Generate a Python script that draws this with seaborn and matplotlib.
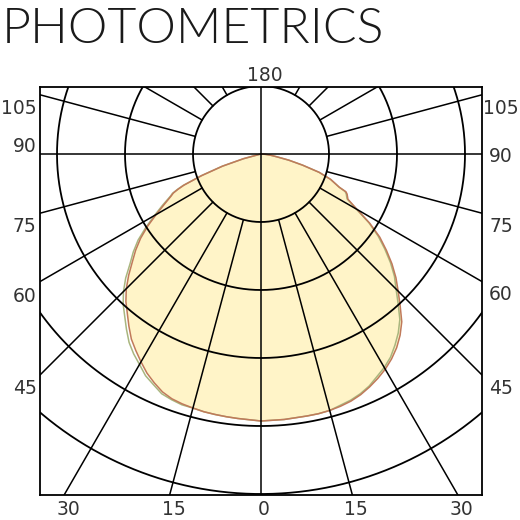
import numpy as np
import pandas as pd
import seaborn as sns
import matplotlib.pyplot as plt

# polar grid, centre of the diagram is (0, 0), units ~ pixels
ring_step = 68
ring_count = 5
spoke_angles = [15, 30, 45, 60, 75, 105, 120, 135, 150, 165]

# light distribution curve: radius vs angle from nadir
gamma = [0, 2.5, 5, 7.5, 10, 12.5, 15, 17.5, 20, 22.5, 25, 27.5, 30, 32.5, 35, 37.5, 40,
         42.5, 45, 47.5, 50, 52.5, 55, 57.5, 60, 62.5, 65, 66, 67, 68, 70, 72.5, 75,
         77.5, 80, 82.5, 85, 87.5, 90]
red_left = [267, 266, 265.5, 265, 264.5, 264, 263, 262, 260.5, 257.5, 252.5, 247, 240,
            233, 226, 217, 208, 200, 190.5, 179.5, 168, 158, 147, 134.5, 121, 109, 99,
            96, 90, 83, 63, 40, 18, 1, 0, 0, 0, 0, 0]
red_right = [267, 266.5, 266.5, 266, 266, 266, 265.5, 264.5, 263, 260.5, 257, 253, 248.5,
             243, 236.5, 228.5, 219, 206, 194, 183, 171, 158, 145, 129, 111, 98, 95,
             93, 85, 81, 74, 61, 43, 28.5, 16, 10, 5, 2, 0]
green_left = [267, 266, 265.5, 265, 264.5, 264, 263, 263, 261.5, 259.5, 254.5, 250, 243,
              237, 230, 221, 212, 204, 194.5, 183.5, 171, 161, 150, 136.5, 123, 111, 100,
              97, 91, 84, 64, 41, 18, 1, 0, 0, 0, 0, 0]
green_right = [267, 266.5, 266.5, 266, 266, 266, 265.5, 263.5, 262, 259.5, 256, 251, 246.5,
               241, 233.5, 225.5, 216, 203, 191, 181, 169, 156, 143, 128, 110, 97, 94,
               92, 85, 81, 74, 61, 43, 28.5, 16, 10, 5, 2, 0]

# axis labels
side_labels = ['105', '90', '75', '60', '45']
left_label_y = [45, 7, -73, -142, -235]
right_label_y = [46, -2, -73, -140, -234.5]
bottom_labels = ['30', '15', '0', '15', '30']
bottom_label_x = [-192.5, -87.5, 2.5, 94.5, 200.5]


def to_xy(angles, radii, side):
    a = np.radians(angles)
    r = np.array(radii, dtype=float)
    return side * r * np.sin(a), -r * np.cos(a)


def curve_df(left, right):
    xl, yl = to_xy(gamma, left, -1)
    xr, yr = to_xy(gamma, right, 1)
    x = np.concatenate([xl[::-1], xr])
    y = np.concatenate([yl[::-1], yr])
    return pd.DataFrame({'x': x, 'y': y})


sns.set_style('white')
plt.rcParams['font.family'] = ['DejaVu Sans']

fig = plt.figure(figsize=(5.2, 5.2), dpi=100)
ax = fig.add_axes([40 / 520, 1 - 495 / 520, 442 / 520, 408 / 520])
ax.set_xlim(-221, 221)
ax.set_ylim(-341, 67)

red = curve_df(red_left, red_right)
green = curve_df(green_left, green_right)

ax.fill(red['x'], red['y'], color='#fff4c8', zorder=1, lw=0)
sns.lineplot(data=green, x='x', y='y', sort=False, estimator=None,
             color='#a9b67e', lw=1.1, ax=ax, zorder=2)
sns.lineplot(data=red, x='x', y='y', sort=False, estimator=None,
             color='#c07a5a', lw=1.1, ax=ax, zorder=2)

# grid rings
t = np.linspace(0, 2 * np.pi, 721)
for k in range(1, ring_count + 1):
    rr = ring_step * k
    ax.plot(rr * np.cos(t), rr * np.sin(t), color='black', lw=1.3, zorder=3)

# spokes, starting at the inner ring
for ang in spoke_angles:
    for side in (-1, 1):
        xs, ys = to_xy([ang, ang], [ring_step, 700], side)
        ax.plot(xs, ys, color='black', lw=1.1, zorder=3)
ax.axvline(0, color='black', lw=1.1, zorder=3)
ax.axhline(0, color='black', lw=1.1, zorder=3)

for s in ax.spines.values():
    s.set_color('black')
    s.set_linewidth(1.3)
    s.set_zorder(4)
ax.set_xticks([])
ax.set_yticks([])
ax.set_xlabel('')
ax.set_ylabel('')

lab = dict(fontsize=13.5, color='#333333', clip_on=False)
for txt, yy in zip(side_labels, left_label_y):
    ax.text(-224.5, yy, txt, ha='right', va='center', **lab)
for txt, yy in zip(side_labels, right_label_y):
    ax.text(240, yy, txt, ha='center', va='center', **lab)
for txt, xx in zip(bottom_labels, bottom_label_x):
    ax.text(xx, -355.5, txt, ha='center', va='center', **lab)
ax.text(4, 78.5, '180', ha='center', va='center', **lab)

fig.text(2 / 520, 1 - 43 / 520, 'PHOTOMETRICS', fontsize=36, family=['Lato', 'DejaVu Sans'],
         fontweight=300, color='#1a1a1a', ha='left', va='baseline')

fig.savefig('out.png', dpi=100)
